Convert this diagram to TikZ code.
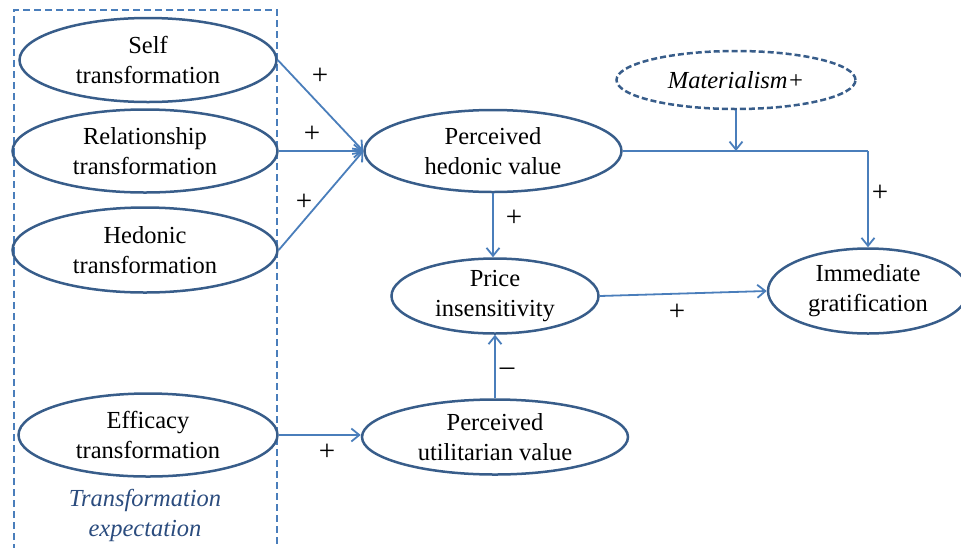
\documentclass[tikz,border=0pt]{standalone}
\usepackage{fontspec}
\setmainfont{Liberation Serif}
\usetikzlibrary{shapes.geometric,arrows.meta}
\definecolor{ebord}{HTML}{385D8A}
\definecolor{lblue}{HTML}{4A7EBB}
\definecolor{tblue}{HTML}{2B4C7E}
\begin{document}
\begin{tikzpicture}[x=1pt,y=-1pt,
  ell/.style={ellipse,draw=ebord,line width=2.5pt,inner sep=0pt,align=center,
    font=\fontsize{24.5}{30}\selectfont},
  conn/.style={draw=lblue,line width=1.8pt,-{Straight Barb[length=8pt,width=13pt,line width=1.8pt]}},
  sign/.style={font=\fontsize{29}{32}\selectfont,inner sep=0pt}]
\useasboundingbox (0,0) rectangle (961,547);
\begin{scope}
\clip (0,0) rectangle (961,547);
\draw[lblue,line width=2.2pt,dash pattern=on 7pt off 4pt] (14,562) -- (14,10) -- (277,10) -- (277,562);
\node[ell,minimum width=257pt,minimum height=84pt] (self) at (148,60) {Self\\transformation};
\node[ell,minimum width=265pt,minimum height=83pt] (rel) at (145,151) {Relationship\\transformation};
\node[ell,minimum width=265pt,minimum height=85pt] (hed) at (145,250) {Hedonic\\transformation};
\node[ell,minimum width=259pt,minimum height=83pt] (eff) at (148,435) {Efficacy\\transformation};
\node[font=\fontsize{24.5}{30}\selectfont\itshape,text=tblue,align=center,inner sep=0pt] (te) at (145,515) {Transformation\\expectation};
\node[ell,minimum width=257pt,minimum height=82pt] (phv) at (493,151) {Perceived\\hedonic value};
\node[ell,dashed,dash pattern=on 6pt off 3pt,minimum width=239pt,minimum height=58pt] (mat) at (736,80) {\itshape Materialism+};
\node[ell,minimum width=207pt,minimum height=75pt] (pi) at (495,296) {Price\\insensitivity};
\node[ell,minimum width=200pt,minimum height=85pt] (ig) at (868,291) {Immediate\\gratification};
\node[ell,minimum width=266pt,minimum height=75pt] (puv) at (495,437) {Perceived\\utilitarian value};
\coordinate (corner) at (868,151);
\coordinate (modpt) at (736,151);
\draw[conn] (self.east) -- (phv.west);
\draw[conn] (rel.east) -- (phv.west);
\draw[conn] (hed.east) -- (phv.west);
\draw[conn] (eff.east) -- (eff.east -| puv.west);
\draw[conn] (phv.south) -- (phv.south |- pi.north);
\draw[conn] (puv.north) -- (pi.south);
\draw[conn] (pi.east) -- (ig.west);
\draw[draw=lblue,line width=1.8pt] (phv.east) -- (corner);
\draw[conn] (corner) -- (ig.north);
\draw[conn] (mat.south) -- (modpt);
\node[sign] (s1) at (320,76) {+};
\node[sign] (s2) at (312,134) {+};
\node[sign] (s3) at (304,202) {+};
\node[sign] (s4) at (327,452) {+};
\node[sign] (s5) at (514,218) {+};
\node[sign] (s6) at (507,372) {\textendash};
\node[sign] (s7) at (677,312) {+};
\node[sign] (s8) at (880,193) {+};
\end{scope}
\end{tikzpicture}
\end{document}
